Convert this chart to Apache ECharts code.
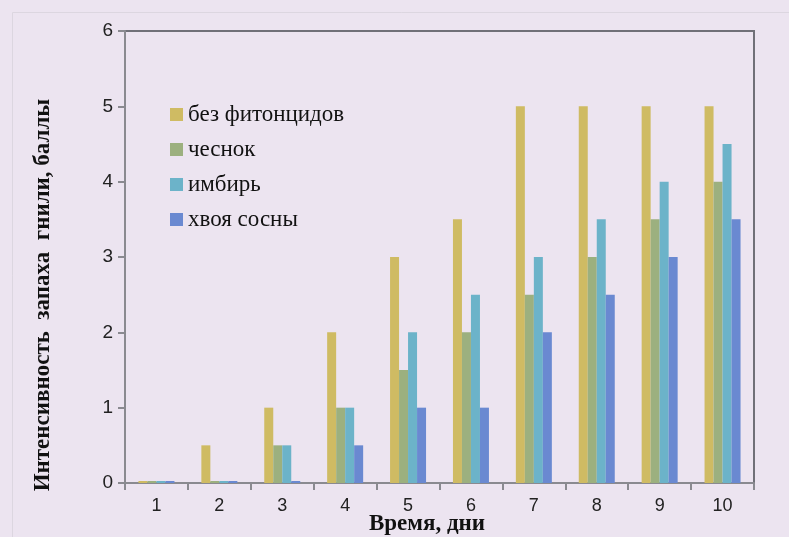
<!DOCTYPE html>
<html>
<head>
<meta charset="utf-8">
<script src="https://cdn.jsdelivr.net/npm/echarts@6/dist/echarts.min.js"></script>
<style>
html,body{margin:0;padding:0;background:#ece4f0;}
#c{width:789px;height:537px;}
</style>
</head>
<body>
<div id="c"></div>
<script>
const categories = ['1','2','3','4','5','6','7','8','9','10'];
const seriesNames = ['без фитонцидов','чеснок','имбирь','хвоя сосны'];
const bezFitoncidov = [0,0.5,1,2,3,3.5,5,5,5,5];
const chesnok = [0,0,0.5,1,1.5,2,2.5,3,3.5,4];
const imbir = [0,0,0.5,1,2,2.5,3,3.5,4,4.5];
const khvoya = [0,0,0,0.5,1,1,2,2.5,3,3.5];
const yTicks = [0,1,2,3,4,5,6];
const colors = ['#cfbb63','#9cb07f','#6cb3c9','#6a89d1'];
const allData = [bezFitoncidov, chesnok, imbir, khvoya];

const chart = echarts.init(document.getElementById('c'));
chart.setOption({
  backgroundColor: '#ece4f0',
  animation: false,
  graphic: [{
    type: 'rect', left: 10, top: 10,
    shape: {width: 800, height: 560},
    style: {fill: 'none', stroke: '#dcd6e0', lineWidth: 1},
    silent: true
  }],
  grid: {left: 125, top: 31, right: 35, bottom: 54, show: true, borderColor: '#707078', borderWidth: 2,
    backgroundColor: 'transparent', containLabel: false, outerBoundsMode: 'none'},
  legend: {
    orient: 'vertical', left: 165, top: 98, itemWidth: 13, itemHeight: 13, itemGap: 12,
    icon: 'rect',
    textStyle: {fontFamily: 'Liberation Serif', fontSize: 23, color: '#111'},
    data: seriesNames
  },
  xAxis: {
    type: 'category', data: categories,
    name: 'Время, дни', nameLocation: 'middle', nameGap: 30, nameMoveOverlap: false,
    nameTextStyle: {fontFamily: 'Liberation Serif', fontWeight: 'bold', fontSize: 23, color: '#111', padding: [0, 25, 0, 0]},
    axisLine: {lineStyle: {color: '#8a8a90', width: 2}},
    axisTick: {show: true, length: 7, lineStyle: {color: '#8a8a90', width: 2}},
    axisLabel: {fontFamily: 'Liberation Sans', fontSize: 18, color: '#222', margin: 14}
  },
  yAxis: {
    type: 'value', min: 0, max: 6, interval: 1,
    name: 'Интенсивность  запаха  гнили, баллы', nameLocation: 'middle', nameGap: 70, nameMoveOverlap: false,
    nameTextStyle: {fontFamily: 'Liberation Serif', fontWeight: 'bold', fontSize: 23, color: '#111', padding: [0, 76, 0, 0]},
    axisLine: {show: true, lineStyle: {color: '#8a8a90', width: 2}},
    axisTick: {show: true, length: 7, lineStyle: {color: '#8a8a90', width: 2}},
    splitLine: {show: false},
    axisLabel: {fontFamily: 'Liberation Sans', fontSize: 19, color: '#222', margin: 12,
      formatter: v => yTicks.includes(v) ? String(v) : ''}
  },
  series: seriesNames.map((n, i) => ({
    name: n, type: 'bar', data: allData[i], barWidth: 9, barGap: '0%', barMinHeight: 2,
    itemStyle: {color: colors[i]}
  }))
});
</script>
</body>
</html>
